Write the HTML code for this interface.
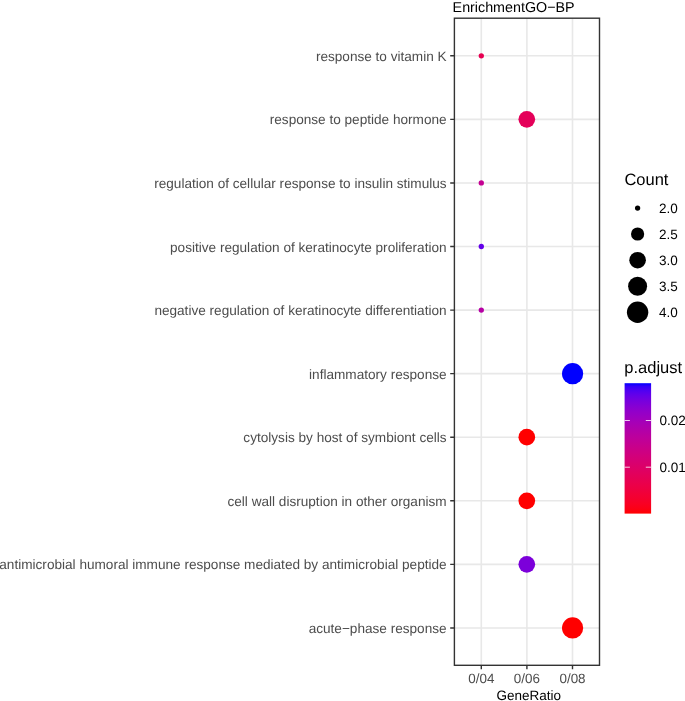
<!DOCTYPE html>
<html><head><meta charset="utf-8"><style>
html,body{margin:0;padding:0;background:#fff;}
body{width:685px;height:701px;overflow:hidden;}
svg{display:block;will-change:transform;}
text{font-family:"Liberation Sans",sans-serif;text-rendering:geometricPrecision;}
</style></head><body>
<svg width="685" height="701" viewBox="0 0 685 701">
<defs><linearGradient id="g" x1="0" y1="0" x2="0" y2="1"><stop offset="0.000" stop-color="#0000ff"/><stop offset="0.025" stop-color="#3500f9"/><stop offset="0.050" stop-color="#4b00f3"/><stop offset="0.075" stop-color="#5b00ed"/><stop offset="0.100" stop-color="#6800e7"/><stop offset="0.125" stop-color="#7300e0"/><stop offset="0.150" stop-color="#7c00da"/><stop offset="0.175" stop-color="#8500d4"/><stop offset="0.200" stop-color="#8d00ce"/><stop offset="0.225" stop-color="#9400c8"/><stop offset="0.250" stop-color="#9a00c3"/><stop offset="0.275" stop-color="#a000bd"/><stop offset="0.300" stop-color="#a600b7"/><stop offset="0.325" stop-color="#ab00b1"/><stop offset="0.350" stop-color="#b000ab"/><stop offset="0.375" stop-color="#b500a5"/><stop offset="0.400" stop-color="#ba009f"/><stop offset="0.425" stop-color="#be009a"/><stop offset="0.450" stop-color="#c20094"/><stop offset="0.475" stop-color="#c6008e"/><stop offset="0.500" stop-color="#ca0088"/><stop offset="0.525" stop-color="#cd0083"/><stop offset="0.550" stop-color="#d1007d"/><stop offset="0.575" stop-color="#d40077"/><stop offset="0.600" stop-color="#d70072"/><stop offset="0.625" stop-color="#da006c"/><stop offset="0.650" stop-color="#dd0066"/><stop offset="0.675" stop-color="#e00061"/><stop offset="0.700" stop-color="#e3005b"/><stop offset="0.725" stop-color="#e50055"/><stop offset="0.750" stop-color="#e80050"/><stop offset="0.775" stop-color="#eb004a"/><stop offset="0.800" stop-color="#ed0044"/><stop offset="0.825" stop-color="#ef003e"/><stop offset="0.850" stop-color="#f20037"/><stop offset="0.875" stop-color="#f40031"/><stop offset="0.900" stop-color="#f6002a"/><stop offset="0.925" stop-color="#f90023"/><stop offset="0.950" stop-color="#fb001a"/><stop offset="0.975" stop-color="#fd000f"/><stop offset="1.000" stop-color="#ff0000"/></linearGradient></defs>
<rect x="0" y="0" width="685" height="701" fill="#fff"/>

<path d="M481.30 18.20V665.30 M526.90 18.20V665.30 M572.50 18.20V665.30 M454.40 55.80H599.50 M454.40 119.37H599.50 M454.40 182.94H599.50 M454.40 246.51H599.50 M454.40 310.08H599.50 M454.40 373.65H599.50 M454.40 437.22H599.50 M454.40 500.79H599.50 M454.40 564.36H599.50 M454.40 627.93H599.50" stroke="#E8E8E8" stroke-width="1.6" fill="none"/>
<circle cx="481.30" cy="55.80" r="2.65" fill="#e70052"/>
<circle cx="526.80" cy="119.37" r="8.35" fill="#e40059"/>
<circle cx="481.30" cy="182.94" r="2.65" fill="#c40092"/>
<circle cx="481.30" cy="246.51" r="2.65" fill="#6300e9"/>
<circle cx="481.30" cy="310.08" r="2.65" fill="#b600a4"/>
<circle cx="572.60" cy="373.65" r="10.60" fill="#0000ff"/>
<circle cx="526.80" cy="437.22" r="8.35" fill="#ff0000"/>
<circle cx="526.80" cy="500.79" r="8.35" fill="#ff0000"/>
<circle cx="526.80" cy="564.36" r="8.35" fill="#7c00da"/>
<circle cx="572.60" cy="627.93" r="10.60" fill="#ff0000"/>
<rect x="454.40" y="18.20" width="145.10" height="647.10" fill="none" stroke="#333333" stroke-width="1.40"/>
<path d="M450.20 55.80H454.40 M450.20 119.37H454.40 M450.20 182.94H454.40 M450.20 246.51H454.40 M450.20 310.08H454.40 M450.20 373.65H454.40 M450.20 437.22H454.40 M450.20 500.79H454.40 M450.20 564.36H454.40 M450.20 627.93H454.40 M481.30 665.30V669.30 M526.90 665.30V669.30 M572.50 665.30V669.30" stroke="#333333" stroke-width="1.4" fill="none"/>
<text x="446.60" y="60.80" font-size="13.60" fill="#4D4D4D" text-anchor="end">response to vitamin K</text>
<text x="446.60" y="124.37" font-size="13.60" fill="#4D4D4D" text-anchor="end">response to peptide hormone</text>
<text x="446.60" y="187.94" font-size="13.60" fill="#4D4D4D" text-anchor="end">regulation of cellular response to insulin stimulus</text>
<text x="446.60" y="251.51" font-size="13.60" fill="#4D4D4D" text-anchor="end">positive regulation of keratinocyte proliferation</text>
<text x="446.60" y="315.08" font-size="13.60" fill="#4D4D4D" text-anchor="end">negative regulation of keratinocyte differentiation</text>
<text x="446.60" y="378.65" font-size="13.60" fill="#4D4D4D" text-anchor="end">inflammatory response</text>
<text x="446.60" y="442.22" font-size="13.60" fill="#4D4D4D" text-anchor="end">cytolysis by host of symbiont cells</text>
<text x="446.60" y="505.79" font-size="13.60" fill="#4D4D4D" text-anchor="end">cell wall disruption in other organism</text>
<text x="446.60" y="569.36" font-size="13.60" fill="#4D4D4D" text-anchor="end">antimicrobial humoral immune response mediated by antimicrobial peptide</text>
<text x="446.60" y="632.93" font-size="13.60" fill="#4D4D4D" text-anchor="end">acute−phase response</text>
<text x="481.30" y="683.00" font-size="13.40" fill="#4D4D4D" text-anchor="middle">0/04</text>
<text x="526.90" y="683.00" font-size="13.40" fill="#4D4D4D" text-anchor="middle">0/06</text>
<text x="572.50" y="683.00" font-size="13.40" fill="#4D4D4D" text-anchor="middle">0/08</text>
<text x="528.8" y="699.8" font-size="13.5" fill="#000" text-anchor="middle">GeneRatio</text>
<text x="452.6" y="11.6" font-size="14.3" fill="#000">EnrichmentGO−BP</text>
<text x="624.4" y="184.6" font-size="16.5" fill="#000">Count</text>
<circle cx="637.6" cy="208.10" r="2.65" fill="#000"/>
<text x="658.9" y="212.80" font-size="13.5" fill="#000">2.0</text>
<circle cx="637.6" cy="234.00" r="6.60" fill="#000"/>
<text x="658.9" y="238.70" font-size="13.5" fill="#000">2.5</text>
<circle cx="637.6" cy="260.20" r="8.30" fill="#000"/>
<text x="658.9" y="264.90" font-size="13.5" fill="#000">3.0</text>
<circle cx="637.6" cy="286.30" r="9.50" fill="#000"/>
<text x="658.9" y="291.00" font-size="13.5" fill="#000">3.5</text>
<circle cx="637.6" cy="312.20" r="10.70" fill="#000"/>
<text x="658.9" y="316.90" font-size="13.5" fill="#000">4.0</text>
<text x="624.3" y="372.7" font-size="16.5" fill="#000">p.adjust</text>
<rect x="624.6" y="383.2" width="26.5" height="130.4" fill="url(#g)"/>
<path d="M624.6 420.50H629.9 M645.8 420.50H651.1 M624.6 467.20H629.9 M645.8 467.20H651.1" stroke="#fff" stroke-width="1" fill="none" opacity="0.8"/>
<text x="659.5" y="425.1" font-size="13.5" fill="#000">0.02</text>
<text x="659.5" y="471.8" font-size="13.5" fill="#000">0.01</text>
</svg>
</body></html>
